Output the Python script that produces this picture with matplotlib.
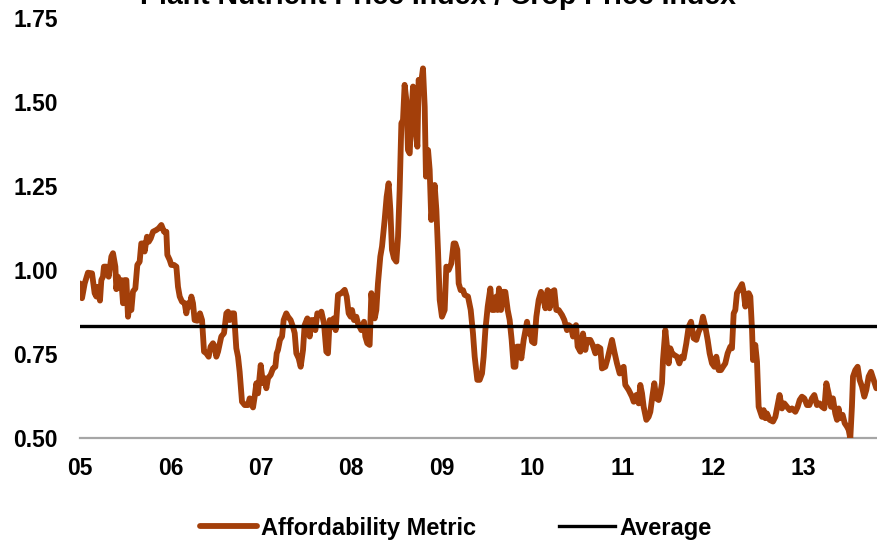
import matplotlib.pyplot as plt
from matplotlib.ticker import FormatStrFormatter

# values (decimal year, index ratio)
years = [
    2005.000, 2005.022, 2005.052, 2005.088, 2005.133, 2005.162, 2005.181, 2005.192, 2005.221, 2005.236,
    2005.254, 2005.265, 2005.291, 2005.317, 2005.347, 2005.365, 2005.391, 2005.402, 2005.420, 2005.439,
    2005.457, 2005.476, 2005.494, 2005.513, 2005.531, 2005.549, 2005.568, 2005.586, 2005.612, 2005.634,
    2005.660, 2005.678, 2005.697, 2005.715, 2005.741, 2005.760, 2005.782, 2005.808, 2005.844, 2005.870,
    2005.900, 2005.929, 2005.955, 2005.966, 2005.992, 2006.010, 2006.040, 2006.066, 2006.084, 2006.103,
    2006.128, 2006.158, 2006.176, 2006.195, 2006.213, 2006.232, 2006.250, 2006.268, 2006.298, 2006.327,
    2006.350, 2006.372, 2006.398, 2006.423, 2006.445, 2006.471, 2006.490, 2006.508, 2006.527, 2006.563,
    2006.593, 2006.619, 2006.637, 2006.656, 2006.681, 2006.704, 2006.729, 2006.748, 2006.766, 2006.792,
    2006.822, 2006.858, 2006.877, 2006.895, 2006.914, 2006.932, 2006.951, 2006.969, 2006.999, 2007.024,
    2007.043, 2007.061, 2007.080, 2007.109, 2007.135, 2007.161, 2007.176, 2007.190, 2007.212, 2007.235,
    2007.253, 2007.282, 2007.301, 2007.330, 2007.356, 2007.375, 2007.393, 2007.419, 2007.441, 2007.467,
    2007.485, 2007.515, 2007.541, 2007.559, 2007.588, 2007.603, 2007.625, 2007.651, 2007.670, 2007.699,
    2007.725, 2007.743, 2007.762, 2007.780, 2007.806, 2007.828, 2007.854, 2007.891, 2007.928, 2007.950,
    2007.972, 2007.994, 2008.009, 2008.031, 2008.057, 2008.075, 2008.094, 2008.112, 2008.142, 2008.156,
    2008.178, 2008.204, 2008.223, 2008.241, 2008.260, 2008.278, 2008.296, 2008.322, 2008.341, 2008.370,
    2008.392, 2008.414, 2008.433, 2008.451, 2008.473, 2008.499, 2008.518, 2008.536, 2008.555, 2008.573,
    2008.591, 2008.610, 2008.628, 2008.647, 2008.665, 2008.684, 2008.709, 2008.732, 2008.746, 2008.768,
    2008.794, 2008.813, 2008.827, 2008.850, 2008.868, 2008.886, 2008.905, 2008.923, 2008.942, 2008.960,
    2008.979, 2009.004, 2009.034, 2009.052, 2009.078, 2009.108, 2009.133, 2009.152, 2009.174, 2009.189,
    2009.211, 2009.237, 2009.255, 2009.292, 2009.322, 2009.347, 2009.366, 2009.395, 2009.421, 2009.447,
    2009.465, 2009.484, 2009.510, 2009.539, 2009.558, 2009.583, 2009.605, 2009.620, 2009.635, 2009.657,
    2009.679, 2009.705, 2009.731, 2009.753, 2009.775, 2009.797, 2009.816, 2009.834, 2009.860, 2009.882,
    2009.908, 2009.945, 2009.963, 2009.982, 2010.000, 2010.026, 2010.048, 2010.074, 2010.100, 2010.129,
    2010.148, 2010.173, 2010.195, 2010.221, 2010.247, 2010.269, 2010.295, 2010.332, 2010.358, 2010.387,
    2010.406, 2010.431, 2010.454, 2010.468, 2010.487, 2010.505, 2010.535, 2010.564, 2010.590, 2010.608,
    2010.645, 2010.671, 2010.701, 2010.726, 2010.756, 2010.774, 2010.811, 2010.837, 2010.859, 2010.885,
    2010.911, 2010.940, 2010.970, 2010.995, 2011.014, 2011.032, 2011.069, 2011.106, 2011.125, 2011.154,
    2011.180, 2011.198, 2011.217, 2011.235, 2011.265, 2011.290, 2011.309, 2011.331, 2011.353, 2011.375,
    2011.401, 2011.419, 2011.438, 2011.449, 2011.475, 2011.493, 2011.512, 2011.530, 2011.549, 2011.574,
    2011.604, 2011.630, 2011.655, 2011.677, 2011.707, 2011.733, 2011.759, 2011.788, 2011.818, 2011.843,
    2011.869, 2011.891, 2011.917, 2011.943, 2011.965, 2011.991, 2012.017, 2012.039, 2012.065, 2012.090,
    2012.113, 2012.138, 2012.164, 2012.194, 2012.212, 2012.231, 2012.249, 2012.267, 2012.297, 2012.323,
    2012.341, 2012.360, 2012.378, 2012.397, 2012.415, 2012.434, 2012.445, 2012.470, 2012.489, 2012.507,
    2012.526, 2012.544, 2012.563, 2012.581, 2012.599, 2012.629, 2012.666, 2012.692, 2012.717, 2012.739,
    2012.765, 2012.791, 2012.821, 2012.850, 2012.876, 2012.913, 2012.939, 2012.961, 2012.986, 2013.012,
    2013.042, 2013.068, 2013.097, 2013.123, 2013.152, 2013.182, 2013.208, 2013.234, 2013.256, 2013.281,
    2013.307, 2013.329, 2013.355, 2013.374, 2013.392, 2013.410, 2013.436, 2013.459, 2013.484, 2013.503,
    2013.521, 2013.539, 2013.551, 2013.576, 2013.602, 2013.624, 2013.650, 2013.676, 2013.698, 2013.724,
    2013.750, 2013.779, 2013.809,
]
metric = [
    0.960, 0.916, 0.960, 0.992, 0.990, 0.931, 0.921, 0.950, 0.909, 0.970,
    0.980, 1.010, 1.010, 0.980, 1.040, 1.050, 1.010, 0.943, 0.980, 0.946,
    0.970, 0.901, 0.970, 0.970, 0.861, 0.901, 0.881, 0.936, 0.945, 1.015,
    1.025, 1.079, 1.079, 1.055, 1.099, 1.084, 1.094, 1.114, 1.119, 1.124,
    1.134, 1.114, 1.114, 1.045, 1.030, 1.015, 1.015, 1.010, 0.950, 0.921,
    0.906, 0.901, 0.871, 0.901, 0.891, 0.921, 0.901, 0.851, 0.849, 0.871,
    0.851, 0.757, 0.752, 0.742, 0.772, 0.782, 0.772, 0.742, 0.757, 0.802,
    0.812, 0.871, 0.876, 0.851, 0.871, 0.871, 0.767, 0.742, 0.697, 0.608,
    0.598, 0.598, 0.618, 0.603, 0.591, 0.623, 0.663, 0.633, 0.717, 0.663,
    0.678, 0.648, 0.678, 0.688, 0.707, 0.712, 0.752, 0.762, 0.792, 0.802,
    0.851, 0.871, 0.861, 0.851, 0.831, 0.812, 0.752, 0.737, 0.712, 0.762,
    0.836, 0.856, 0.802, 0.851, 0.851, 0.821, 0.871, 0.866, 0.876, 0.841,
    0.757, 0.752, 0.851, 0.831, 0.856, 0.821, 0.926, 0.931, 0.941, 0.921,
    0.871, 0.861, 0.881, 0.851, 0.861, 0.841, 0.831, 0.821, 0.846, 0.802,
    0.782, 0.777, 0.931, 0.881, 0.856, 0.881, 0.960, 1.040, 1.070, 1.149,
    1.218, 1.258, 1.179, 1.060, 1.035, 1.025, 1.099, 1.238, 1.437, 1.446,
    1.551, 1.506, 1.357, 1.347, 1.456, 1.546, 1.427, 1.367, 1.566, 1.546,
    1.600, 1.486, 1.278, 1.357, 1.298, 1.149, 1.208, 1.253, 1.179, 1.060,
    0.911, 0.861, 0.881, 1.010, 1.000, 1.020, 1.079, 1.079, 1.060, 0.960,
    0.940, 0.940, 0.926, 0.921, 0.881, 0.812, 0.742, 0.673, 0.673, 0.692,
    0.742, 0.821, 0.891, 0.945, 0.881, 0.881, 0.921, 0.881, 0.945, 0.881,
    0.935, 0.935, 0.881, 0.851, 0.792, 0.712, 0.712, 0.772, 0.772, 0.737,
    0.792, 0.846, 0.811, 0.821, 0.787, 0.782, 0.861, 0.911, 0.935, 0.911,
    0.886, 0.940, 0.886, 0.935, 0.940, 0.881, 0.881, 0.866, 0.851, 0.821,
    0.836, 0.831, 0.802, 0.826, 0.836, 0.772, 0.757, 0.811, 0.762, 0.792,
    0.792, 0.777, 0.752, 0.772, 0.767, 0.707, 0.712, 0.737, 0.762, 0.792,
    0.757, 0.722, 0.692, 0.707, 0.712, 0.658, 0.643, 0.623, 0.608, 0.628,
    0.603, 0.658, 0.633, 0.593, 0.554, 0.563, 0.578, 0.623, 0.663, 0.618,
    0.613, 0.633, 0.663, 0.732, 0.821, 0.772, 0.722, 0.767, 0.752, 0.747,
    0.742, 0.722, 0.742, 0.737, 0.782, 0.831, 0.846, 0.797, 0.792, 0.816,
    0.831, 0.861, 0.831, 0.792, 0.752, 0.722, 0.712, 0.742, 0.702, 0.702,
    0.712, 0.722, 0.752, 0.772, 0.767, 0.871, 0.881, 0.931, 0.945, 0.958,
    0.935, 0.891, 0.921, 0.931, 0.921, 0.821, 0.732, 0.777, 0.727, 0.593,
    0.578, 0.563, 0.583, 0.559, 0.573, 0.554, 0.549, 0.563, 0.598, 0.628,
    0.588, 0.603, 0.593, 0.583, 0.588, 0.578, 0.593, 0.613, 0.623, 0.618,
    0.598, 0.598, 0.618, 0.628, 0.598, 0.603, 0.593, 0.588, 0.663, 0.633,
    0.593, 0.618, 0.573, 0.554, 0.588, 0.559, 0.569, 0.544, 0.534, 0.524,
    0.499, 0.593, 0.683, 0.702, 0.712, 0.673, 0.653, 0.623, 0.643, 0.683,
    0.697, 0.673, 0.648,
]
average = 0.833

year_ticks = [2005, 2006, 2007, 2008, 2009, 2010, 2011, 2012, 2013]
year_labels = ['05', '06', '07', '08', '09', '10', '11', '12', '13']
y_ticks = [0.50, 0.75, 1.00, 1.25, 1.50, 1.75]

plt.rcParams['font.family'] = ['Liberation Sans', 'DejaVu Sans']
plt.rcParams['font.weight'] = 'bold'

fig = plt.figure(figsize=(8.77, 5.43), dpi=100)
ax = fig.add_axes([80 / 877, 1 - 438 / 543, 1 - 80 / 877, (438 - 18) / 543])

ax.plot(years, metric, color='#A33F0A', lw=4.2, solid_joinstyle='round',
        solid_capstyle='round', label='Affordability Metric')
ax.axhline(average, color='black', lw=2.4, label='Average')

ax.set_xlim(2005.0, 2005.0 + 797 / 90.4)
ax.set_ylim(0.5, 1.75)
ax.set_xticks(year_ticks)
ax.set_xticklabels(year_labels)
ax.set_yticks(y_ticks)
ax.yaxis.set_major_formatter(FormatStrFormatter('%.2f'))
ax.tick_params(axis='both', length=0, labelsize=16.5)
ax.tick_params(axis='y', pad=16)
ax.tick_params(axis='x', pad=14)

for s in ['left', 'right', 'top']:
    ax.spines[s].set_visible(False)
ax.spines['bottom'].set_color('#A6A6A6')
ax.spines['bottom'].set_linewidth(1.6)
ax.spines['bottom'].set_zorder(0.5)

# title is clipped by the top edge in the original
fig.text(0.5, 1 - 4 / 543, 'Plant Nutrient Price Index / Crop Price Index',
         ha='center', va='baseline', fontsize=20.5, fontweight='bold')

fig.legend(loc='center', bbox_to_anchor=(456 / 877, 1 - 528 / 543), ncol=2,
           frameon=False, fontsize=17, handlelength=2.4, handletextpad=0.17,
           columnspacing=3.5)

fig.savefig('out.png', dpi=100)
